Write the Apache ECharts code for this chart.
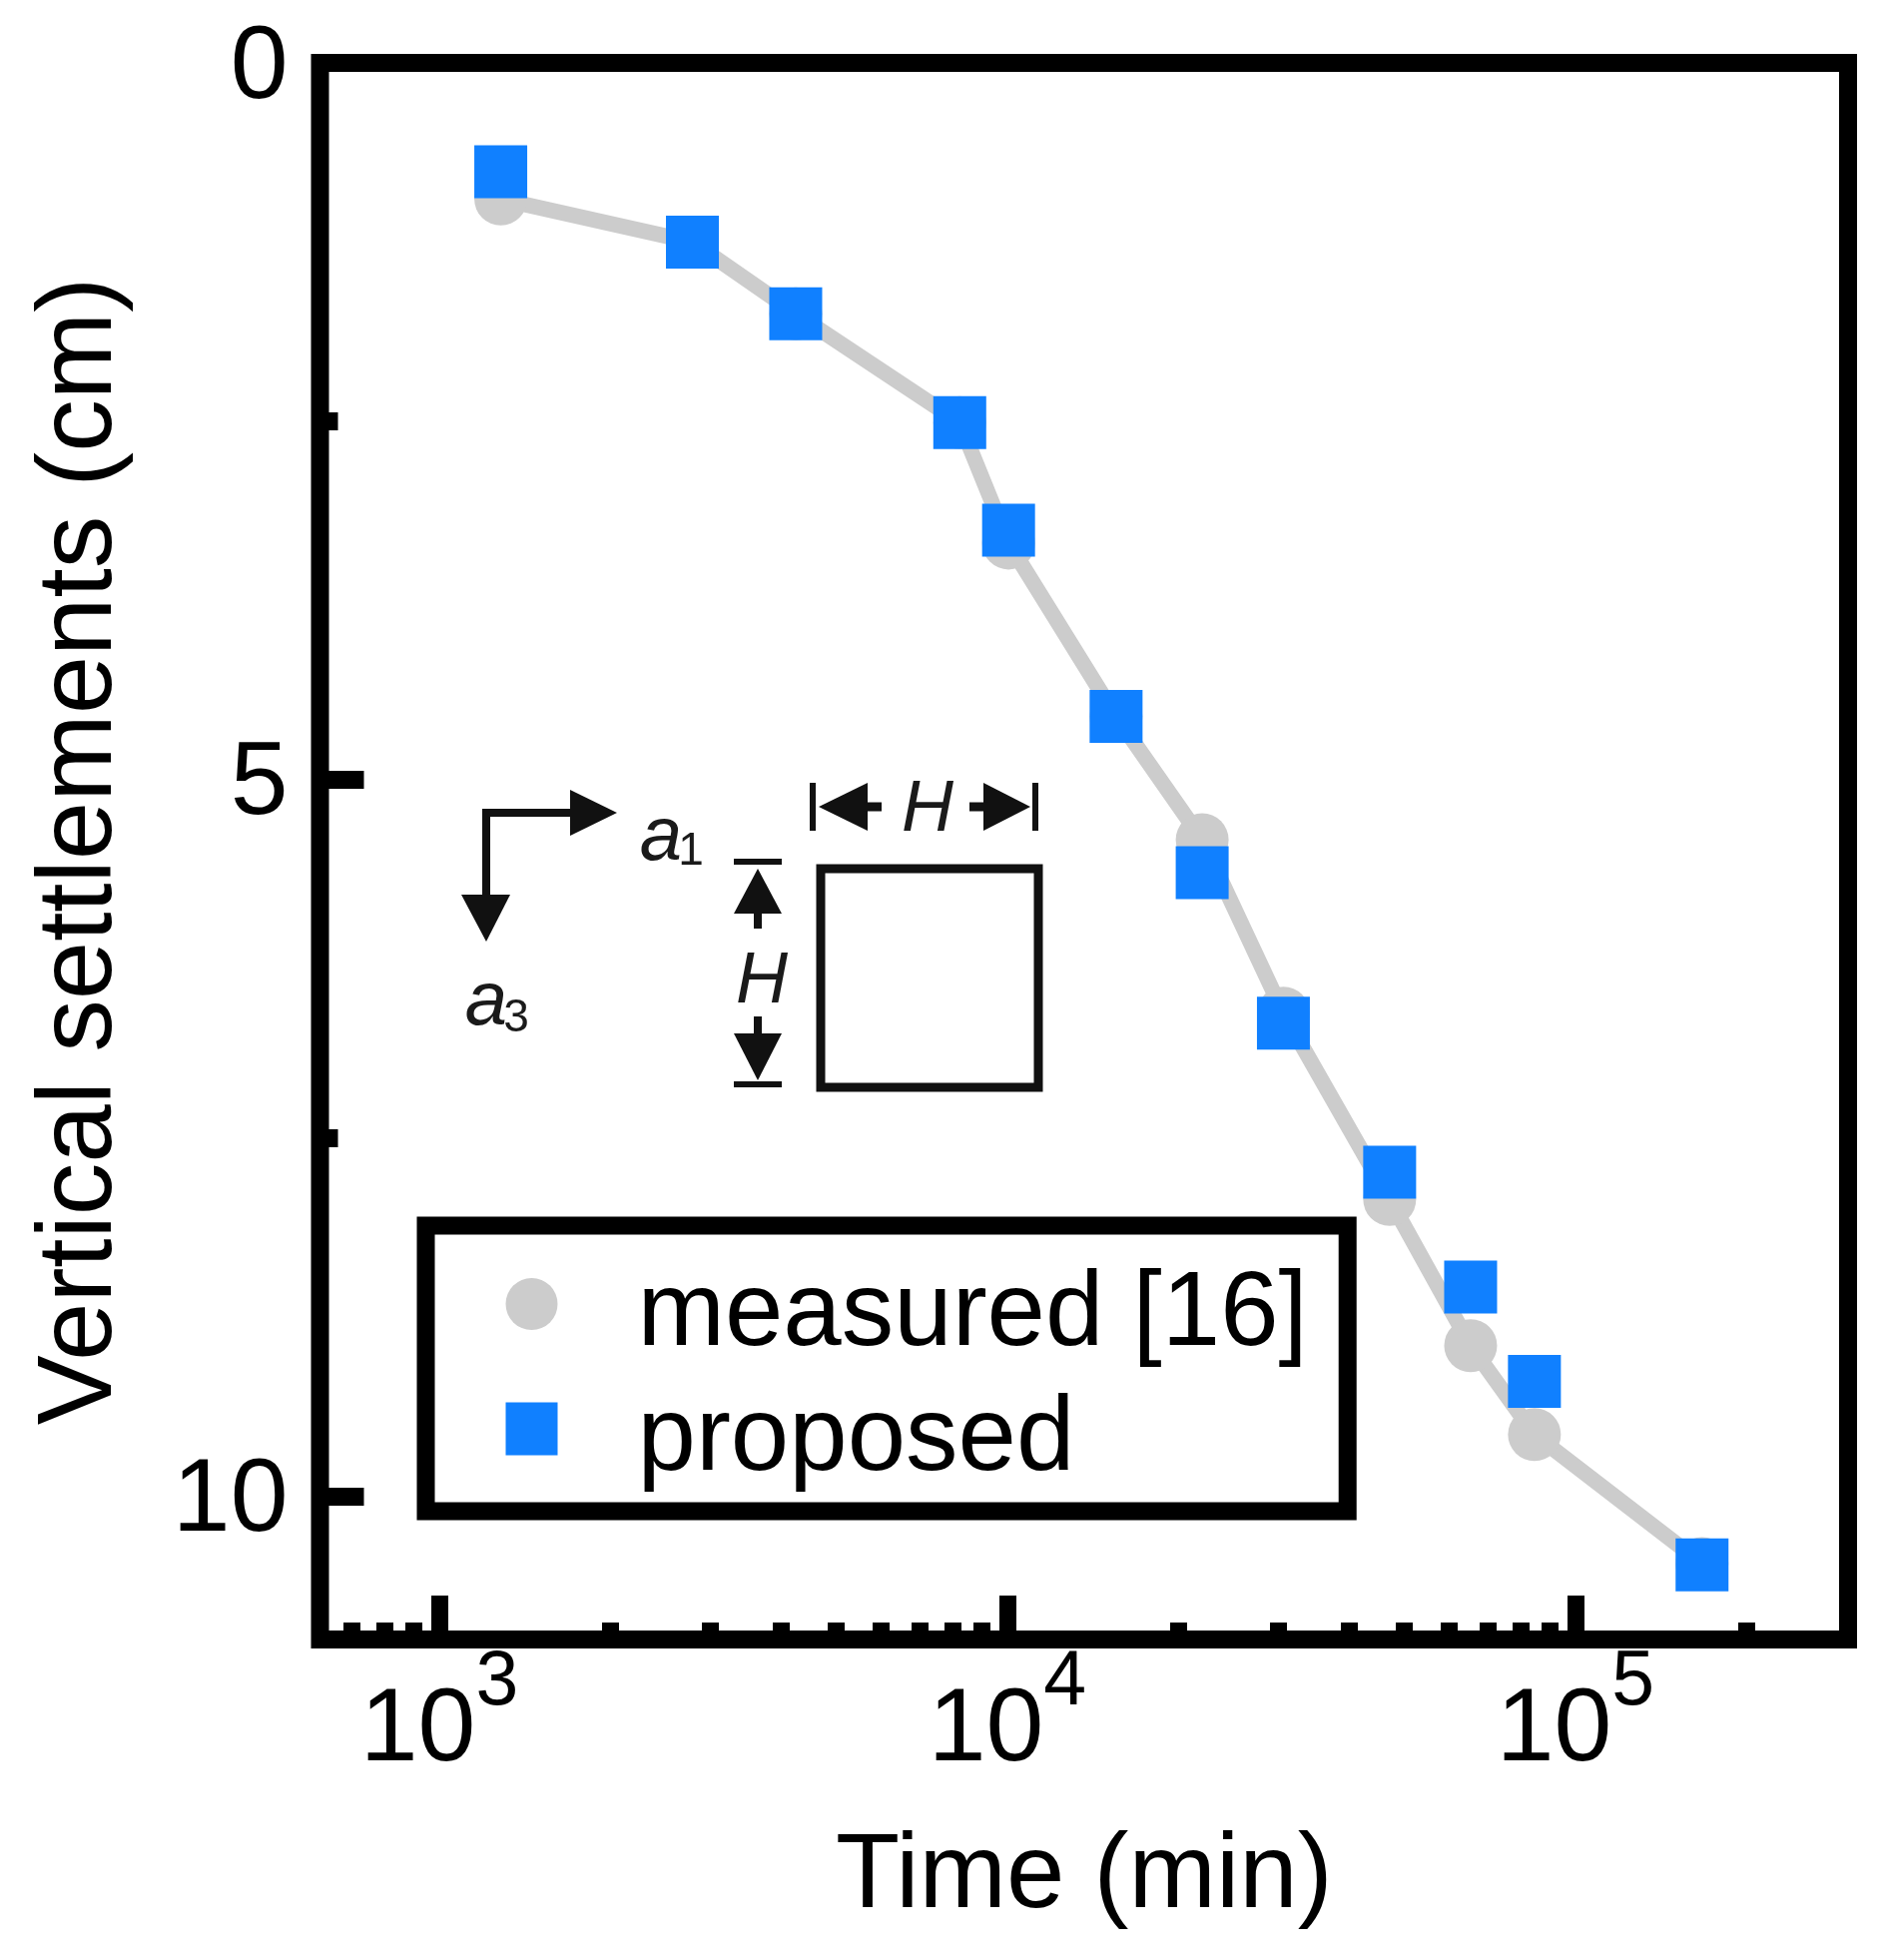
<!DOCTYPE html>
<html>
<head>
<meta charset="utf-8">
<title>Vertical settlements</title>
<script src="https://cdn.jsdelivr.net/npm/echarts@6/dist/echarts.min.js"></script>
<style>
  html, body { margin: 0; padding: 0; background: #fff; }
  .demo { width: 1890px; height: 1963px; }
</style>
</head>
<body>
<div class="demo"></div>
<script>
const timeMeasured = [1283, 2790, 4241, 8246, 10050, 15540, 22030, 30620, 47100, 65400, 84700, 167100]
const settleMeasured = [0.95, 1.25, 1.75, 2.51, 3.35, 4.56, 5.42, 6.63, 7.93, 8.95, 9.57, 10.47]
const timeProposed = [1283, 2790, 4241, 8246, 10050, 15540, 22030, 30620, 47100, 65400, 84700, 167100]
const settleProposed = [0.76, 1.25, 1.75, 2.51, 3.26, 4.56, 5.65, 6.70, 7.74, 8.54, 9.20, 10.48]
const xMajorTicks = [1000, 10000, 100000]
const xMinorTicks = [700, 800, 900, 2000, 3000, 4000, 5000, 6000, 7000, 8000, 9000, 20000, 30000, 40000, 50000, 60000, 70000, 80000, 90000, 200000]
const yMajorTicks = [0, 5, 10]
const yMinorTicks = [2.5, 7.5]

const font = '"Liberation Sans", Arial, sans-serif'
const ink = '#000'
const grey = '#cccccc'
const blue = '#1080ff'

// little helpers for the inset sketch (H x H section and a1/a3 directions)
function seg(points, width) {
  return { type: 'polyline', shape: { points: points }, style: { stroke: '#111', lineWidth: width, fill: null, lineJoin: 'miter' } }
}
function head(points) {
  return { type: 'polygon', shape: { points: points }, style: { fill: '#111' } }
}
function word(text, x, y, size, italic) {
  return { type: 'text', x: x, y: y, style: { text: text, font: (italic ? 'italic ' : '') + size + 'px ' + font, fill: '#1a1a1a', align: 'center', verticalAlign: 'middle' } }
}
const inset = [
  { type: 'rect', shape: { x: 822, y: 870, width: 218, height: 219 }, style: { stroke: '#111', lineWidth: 9, fill: '#fff' } },
  // horizontal H
  seg([[814, 784], [814, 832]], 6), seg([[1037, 784], [1037, 832]], 6),
  head([[820, 808], [869, 784], [869, 832]]), seg([[865, 808], [883, 808]], 9),
  head([[1032, 808], [985, 784], [985, 832]]), seg([[971, 808], [990, 808]], 9),
  word('H', 929, 812, 72, true),
  // vertical H
  seg([[735, 863], [783, 863]], 6), seg([[735, 1086], [783, 1086]], 6),
  head([[759, 870], [735, 915], [783, 915]]), seg([[759, 910], [759, 930]], 8),
  head([[759, 1082], [735, 1035], [783, 1035]]), seg([[759, 1018], [759, 1040]], 8),
  word('H', 763, 984, 72, true),
  // directions
  seg([[575, 814], [487, 814], [487, 900]], 8),
  head([[618, 814], [571, 791], [571, 837]]),
  head([[487, 943], [462, 896], [511, 896]]),
  word('a', 662, 840, 76, true), word('1', 692, 853, 46, false),
  word('a', 487, 1005, 76, true), word('3', 517, 1020, 46, false)
]

const chartinstance = echarts.init(document.querySelector('.demo'))
const option = {
  backgroundColor: '#fff',
  animation: false,
  textStyle: { fontFamily: font },
  grid: {
    show: true,
    outerBoundsMode: 'none',
    left: 320.5,
    top: 63,
    width: 1530.5,
    height: 1579,
    borderColor: ink,
    borderWidth: 18,
    backgroundColor: '#fff'
  },
  legend: {
    show: true,
    orient: 'vertical',
    left: 426.5,
    top: 1227.5,
    padding: [14, 40, 18, 80],
    borderColor: ink,
    borderWidth: 18,
    backgroundColor: '#fff',
    itemWidth: 52,
    itemHeight: 53,
    itemGap: -4,
    selectedMode: false,
    formatter: function (name) { return '{t|' + name + '}' },
    textStyle: {
      padding: [0, 0, 0, 75],
      rich: {
        t: { fontSize: 105, lineHeight: 98, padding: [24, 0, 0, 0], color: ink, fontFamily: font }
      }
    },
    data: [
      { name: 'measured [16]', icon: 'circle' },
      { name: 'proposed', icon: 'rect' }
    ]
  },
  xAxis: [
    {
      type: 'log',
      logBase: 10,
      position: 'bottom',
      min: 616.6,
      max: 302000,
      name: 'Time (min)',
      nameLocation: 'middle',
      nameGap: 187,
      nameTextStyle: { fontSize: 105, color: ink, fontFamily: font },
      axisLine: { show: false, onZero: false },
      splitLine: { show: false },
      axisTick: { show: true, inside: true, length: 44, customValues: xMajorTicks, lineStyle: { color: ink, width: 17 } },
      axisLabel: {
        show: true,
        margin: 40,
        customValues: xMajorTicks,
        formatter: function (v) { return '{b|10}{s|' + Math.round(Math.log10(v)) + '}' },
        rich: {
          b: { fontSize: 104, lineHeight: 104, color: ink, fontFamily: font },
          s: { fontSize: 77, height: 8, verticalAlign: 'top', color: ink, fontFamily: font }
        }
      }
    },
    {
      type: 'log',
      logBase: 10,
      position: 'bottom',
      min: 616.6,
      max: 302000,
      axisLine: { show: false, onZero: false },
      splitLine: { show: false },
      axisTick: { show: true, inside: true, length: 17, customValues: xMinorTicks, lineStyle: { color: ink, width: 17 } },
      axisLabel: { show: false }
    }
  ],
  yAxis: [
    {
      type: 'value',
      inverse: true,
      position: 'left',
      min: 0,
      max: 11,
      name: 'Vertical settlements (cm)',
      nameLocation: 'middle',
      nameRotate: 90,
      nameGap: 186,
      nameTextStyle: { fontSize: 105, color: ink, fontFamily: font },
      axisLine: { show: false, onZero: false },
      splitLine: { show: false },
      axisTick: { show: true, inside: true, length: 44, customValues: yMajorTicks, lineStyle: { color: ink, width: 18 } },
      axisLabel: {
        show: true,
        margin: 32,
        customValues: yMajorTicks,
        formatter: function (v) { return '{v|' + v + '}' },
        rich: {
          v: { fontSize: 104, lineHeight: 104, padding: [12, 0, 0, 0], color: ink, fontFamily: font }
        }
      }
    },
    {
      type: 'value',
      inverse: true,
      position: 'left',
      min: 0,
      max: 11,
      axisLine: { show: false, onZero: false },
      splitLine: { show: false },
      axisTick: { show: true, inside: true, length: 18, customValues: yMinorTicks, lineStyle: { color: ink, width: 18 } },
      axisLabel: { show: false }
    }
  ],
  series: [
    {
      name: 'measured [16]',
      type: 'line',
      z: 2,
      symbol: 'circle',
      symbolSize: 53,
      showAllSymbol: true,
      itemStyle: { color: grey },
      lineStyle: { color: grey, width: 15.5 },
      data: timeMeasured.map((t, i) => [t, settleMeasured[i]])
    },
    {
      name: 'proposed',
      type: 'scatter',
      z: 3,
      symbol: 'rect',
      symbolSize: 53,
      itemStyle: { color: blue, opacity: 1 },
      data: timeProposed.map((t, i) => [t, settleProposed[i]])
    }
  ],
  graphic: inset
}
option && chartinstance.setOption(option)
window.addEventListener('resize', () => {
  chartinstance.resize()
})
</script>
</body>
</html>
